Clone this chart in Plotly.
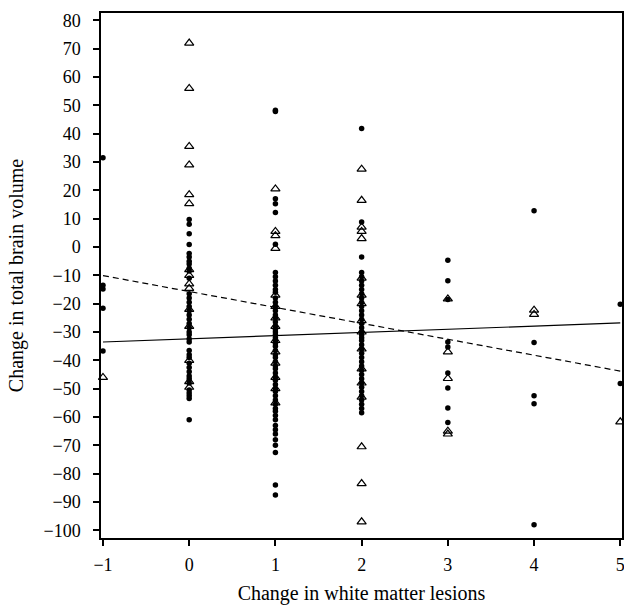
import plotly.graph_objects as go

# ---- data ----
circ_xm1 = [31.5, -13.5, -14.8, -21.6, -36.7]
tri_xm1 = [-46.0]

circ_x0 = [9.7, 8.0, 4.7, 0.9, -2.3, -3.5, -5.0, -6.0, -7.5, -8.5, -11.0, -16.5, -18.0,
           -19.5, -21.0, -22.5, -24.0, -25.5, -27.0, -28.5, -30.0, -31.0, -32.5, -33.5,
           -36.5, -38.0, -39.0, -41.0, -42.5, -44.0, -45.5, -46.5, -48.0, -50.5, -51.5,
           -52.5, -53.5, -61.0]
tri_x0 = [72.0, 56.0, 35.5, 29.0, 18.5, 15.3, -8.0, -10.0, -13.0, -14.6, -22.0, -28.0,
          -40.0, -47.5, -49.5]

circ_x1 = [48.3, 47.8, 17.0, 15.3, 12.2, 1.0, -9.0, -10.5, -12.0, -13.5, -15.0, -16.0,
           -18.0, -19.5, -21.0, -22.5, -24.0, -25.0, -26.5, -28.0, -29.0, -30.0, -31.0,
           -32.0, -33.0, -34.0, -35.0, -36.5, -38.0, -39.0, -40.5, -42.0, -43.0, -44.5,
           -46.0, -47.0, -48.5, -50.0, -51.0, -52.5, -54.0, -55.5, -57.0, -58.0, -59.5,
           -61.0, -63.0, -64.5, -66.0, -68.0, -70.0, -72.5, -84.0, -87.5]
tri_x1 = [20.5, 5.5, 4.0, -0.5, -17.0, -21.0, -25.0, -28.0, -33.0, -37.0, -41.0, -46.0,
          -50.0, -55.0]

circ_x2 = [41.8, 8.8, -3.5, -9.0, -10.5, -12.0, -13.5, -15.0, -16.5, -18.0, -19.5, -21.0,
           -22.5, -24.0, -25.5, -27.0, -28.5, -30.0, -31.0, -32.0, -33.0, -34.5, -36.0,
           -37.5, -39.0, -40.5, -42.0, -43.5, -45.0, -46.5, -48.0, -49.5, -51.0, -52.5,
           -54.0, -55.5, -57.0, -58.5]
tri_x2 = [27.5, 16.5, 7.0, 5.5, 3.0, -11.0, -17.0, -20.0, -26.0, -30.0, -36.0, -43.0,
          -48.0, -53.0, -70.5, -83.5, -97.0]

circ_x3 = [-4.7, -11.9, -18.5, -33.5, -35.3, -44.5, -49.8, -56.8, -61.9]
tri_x3 = [-18.3, -37.0, -46.4, -65.0, -66.0]

circ_x4 = [12.8, -33.7, -52.5, -55.3, -98.0]
tri_x4 = [-22.3, -23.8]

circ_x5 = [-20.2, -48.2]
tri_x5 = [-61.7]

wml_levels = [-1, 0, 1, 2, 3, 4, 5]
circle_groups = [circ_xm1, circ_x0, circ_x1, circ_x2, circ_x3, circ_x4, circ_x5]
triangle_groups = [tri_xm1, tri_x0, tri_x1, tri_x2, tri_x3, tri_x4, tri_x5]

# fitted lines: (intercept, slope)
solid_fit = (-32.4, 1.12)
dashed_fit = (-15.7, -5.62)
line_x = [-1, 5]

x_ticks = [-1, 0, 1, 2, 3, 4, 5]
y_ticks = list(range(-100, 81, 10))

# ---- build ----
cx, cy, tx, ty = [], [], [], []
for lv, g in zip(wml_levels, circle_groups):
    cx += [lv] * len(g)
    cy += g
for lv, g in zip(wml_levels, triangle_groups):
    tx += [lv] * len(g)
    ty += g

fig = go.Figure()
fig.add_trace(go.Scatter(x=line_x, y=[solid_fit[0] + solid_fit[1] * v for v in line_x],
                         mode="lines", line=dict(color="black", width=1.2),
                         showlegend=False, hoverinfo="skip"))
fig.add_trace(go.Scatter(x=line_x, y=[dashed_fit[0] + dashed_fit[1] * v for v in line_x],
                         mode="lines", line=dict(color="black", width=1.2, dash="6px,4px"),
                         showlegend=False, hoverinfo="skip"))
fig.add_trace(go.Scatter(x=tx, y=ty, mode="markers",
                         marker=dict(symbol="triangle-up-open", size=8, color="black",
                                     line=dict(width=1.2, color="black")),
                         showlegend=False, cliponaxis=False))
fig.add_trace(go.Scatter(x=cx, y=cy, mode="markers",
                         marker=dict(symbol="circle", size=5.5, color="black",
                                     line=dict(width=0)),
                         showlegend=False, cliponaxis=False))

font_family = "Liberation Serif, Times New Roman, serif"
fig.update_layout(
    width=624, height=605,
    margin=dict(l=101, r=2, t=13, b=67),
    paper_bgcolor="white", plot_bgcolor="white",
    font=dict(family=font_family, size=18, color="black"),
    xaxis=dict(range=[-1.023, 5.02], tickvals=x_ticks, showgrid=False, zeroline=False,
               showline=True, linecolor="black", linewidth=1.5, mirror=True,
               ticks="outside", ticklen=6, tickwidth=1.5, tickcolor="black",
               ticklabelstandoff=4, ticklabeloverflow="allow", automargin=False,
               title=dict(text="Change in white matter lesions", standoff=13,
                          font=dict(size=20))),
    yaxis=dict(range=[-102.7, 82.6], tickvals=y_ticks, showgrid=False, zeroline=False,
               showline=True, linecolor="black", linewidth=1.5, mirror=True,
               ticks="outside", ticklen=6, tickwidth=1.5, tickcolor="black",
               ticklabelstandoff=9, ticklabeloverflow="allow", automargin=False,
               title=dict(text="Change in total brain volume", standoff=14,
                          font=dict(size=20))),
)

fig.write_html("out.html", config={"displayModeBar": False},
               post_script="document.body.style.margin='0';document.body.style.padding='0';")
